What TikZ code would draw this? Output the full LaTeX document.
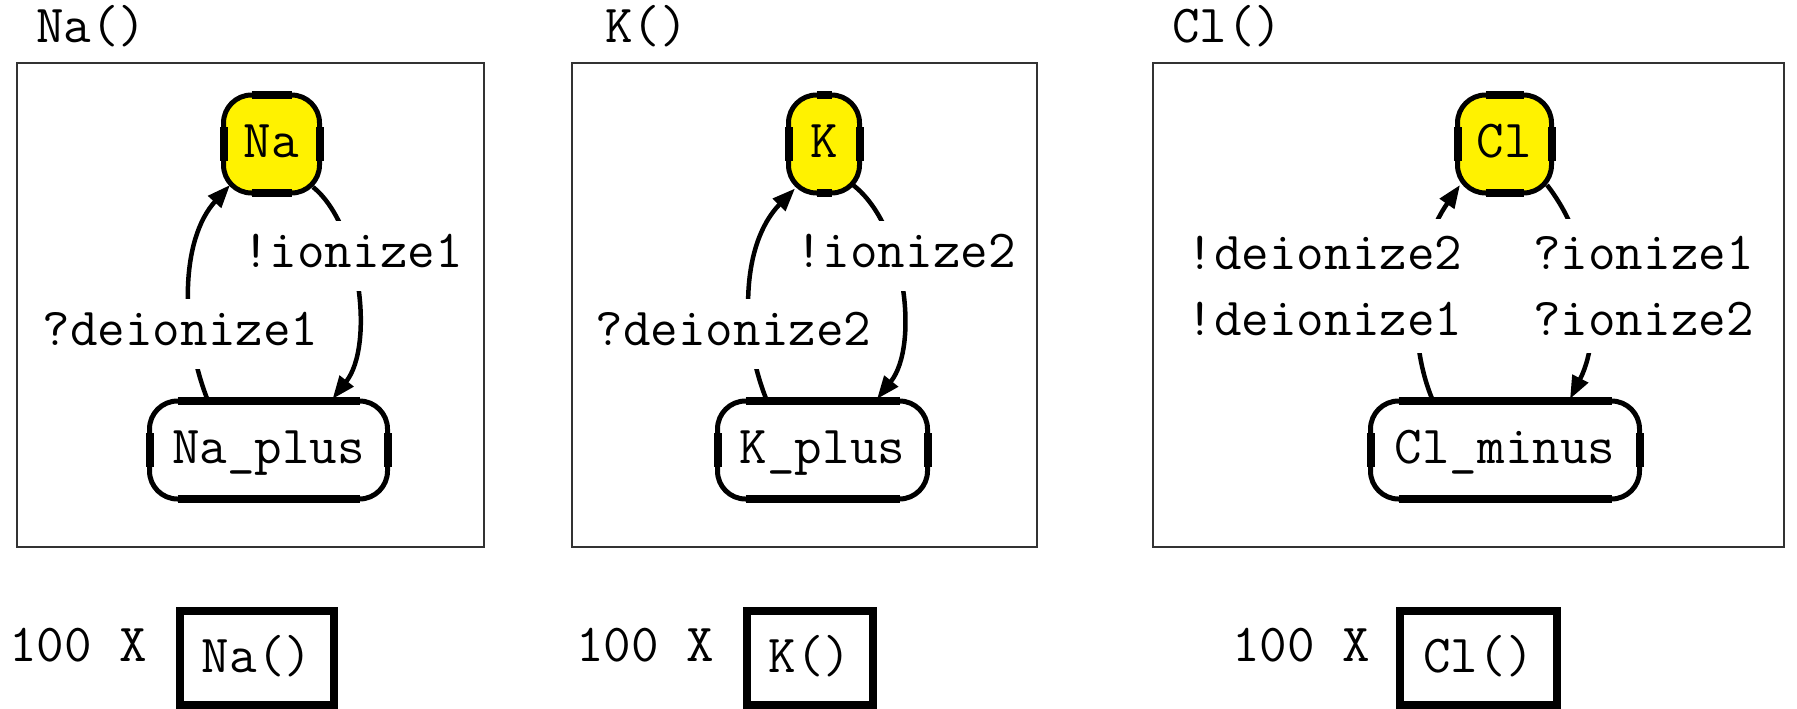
\documentclass[tikz,border=0pt]{standalone}
\usepackage{fontspec}
\usetikzlibrary{arrows.meta}
\newcommand\cf{\ttfamily\fontsize{53.5}{66.5}\selectfont}
\begin{document}
\begin{tikzpicture}[x=1pt,y=-1pt,
  lbl/.style={font=\cf, inner sep=0pt, anchor=base west},
  frame/.style={draw=black!80, line width=2pt},
  st/.style={draw, line width=5pt, rounded corners=28pt, outer sep=0pt, inner sep=0pt,
             font=\cf, text height=26pt, text depth=0pt, minimum height=98pt},
  initst/.style={st, fill=yellow},
  trans/.style={line width=4.5pt, -{Triangle[length=23pt,width=17pt]}},
  elabel/.style={fill=white, font=\cf, inner xsep=3pt, inner ysep=16pt,
                 text height=30pt, text depth=8pt, anchor=base},
  elabeltwo/.style={fill=white, font=\cf, inner xsep=3pt, inner ysep=0pt,
                    minimum height=134pt, align=center},
  inst/.style={draw, line width=8pt, inner sep=0pt, font=\cf, text height=28pt,
               text depth=0pt, minimum height=94pt},
  seg/.style={line width=8pt}
]
\useasboundingbox (0,0) rectangle (1797,709);

% panel frames
\draw[frame] (17,63) rectangle (484,547);
\draw[frame] (572,63) rectangle (1037,547);
\draw[frame] (1153,63) rectangle (1784,547);

% panel titles
\node[lbl] (tNa) at (36,43) {Na()};
\node[lbl] (tK)  at (605,43) {K()};
\node[lbl] (tCl) at (1172,43) {Cl()};

% states
\node[initst, minimum width=96pt]  (Na)      at (271.5,144) {Na};
\node[st,     minimum width=238pt] (Naplus)  at (268.5,450) {Na\_plus};
\node[initst, minimum width=71pt]  (K)       at (824,144)   {K};
\node[st,     minimum width=210pt] (Kplus)   at (822.5,450) {K\_plus};
\node[initst, minimum width=94pt]  (Cl)      at (1504.5,144) {Cl};
\node[st,     minimum width=269pt] (Clminus) at (1505,450)  {Cl\_minus};

\foreach \n in {Na,Naplus,K,Kplus,Cl,Clminus}{
  \draw[seg] ([xshift=28pt]\n.north west) -- ([xshift=-28pt]\n.north east)
             ([xshift=28pt]\n.south west) -- ([xshift=-28pt]\n.south east)
             ([yshift=-32pt]\n.north west) -- ([yshift=32pt]\n.south west)
             ([yshift=-32pt]\n.north east) -- ([yshift=32pt]\n.south east);
}

% transitions, panel 1
\draw[trans] ([shift={(-60.5,0)}]Naplus.north) .. controls (180,330) and (180,240) .. ([shift={(-41.5,41)}]Na.center);
\draw[trans] ([shift={(41.5,43)}]Na.center) .. controls (360,225) and (375,345) .. ([shift={(64,-2)}]Naplus.north);
% panel 2
\draw[trans] ([shift={(-55.5,0)}]Kplus.north) .. controls (740,335) and (740,245) .. ([shift={(-29,44.5)}]K.center);
\draw[trans] ([shift={(29,41)}]K.center) .. controls (905,225) and (920,345) .. ([shift={(54.5,-2)}]Kplus.north);
% panel 3
\draw[trans] ([shift={(-72,0)}]Clminus.north) .. controls (1405,335) and (1415,250) .. ([shift={(-44.5,41)}]Cl.center);
\draw[trans] ([shift={(42.5,41)}]Cl.center) .. controls (1590,240) and (1605,330) .. ([shift={(65,-2)}]Clminus.north);

% transition labels
\node[elabel] (l1a) at (352.5,267) {!ionize1};
\node[elabel] (l1b) at (180.5,345) {?deionize1};
\node[elabel] (l2a) at (905.5,267) {!ionize2};
\node[elabel] (l2b) at (733.5,345) {?deionize2};
\node[elabeltwo] (l3a) at (1324.5,286) {!deionize2\\!deionize1};
\node[elabeltwo] (l3b) at (1643.5,286) {?ionize1\\?ionize2};

% instances
\node[lbl] (c1) at (9,661)    {100 X};
\node[lbl] (c2) at (576,661)  {100 X};
\node[lbl] (c3) at (1232,661) {100 X};
\node[inst, minimum width=154pt] (iNa) at (257,658)    {Na()};
\node[inst, minimum width=126pt] (iK)  at (810,658)    {K()};
\node[inst, minimum width=157pt] (iCl) at (1478.5,658) {Cl()};
\end{tikzpicture}
\end{document}
